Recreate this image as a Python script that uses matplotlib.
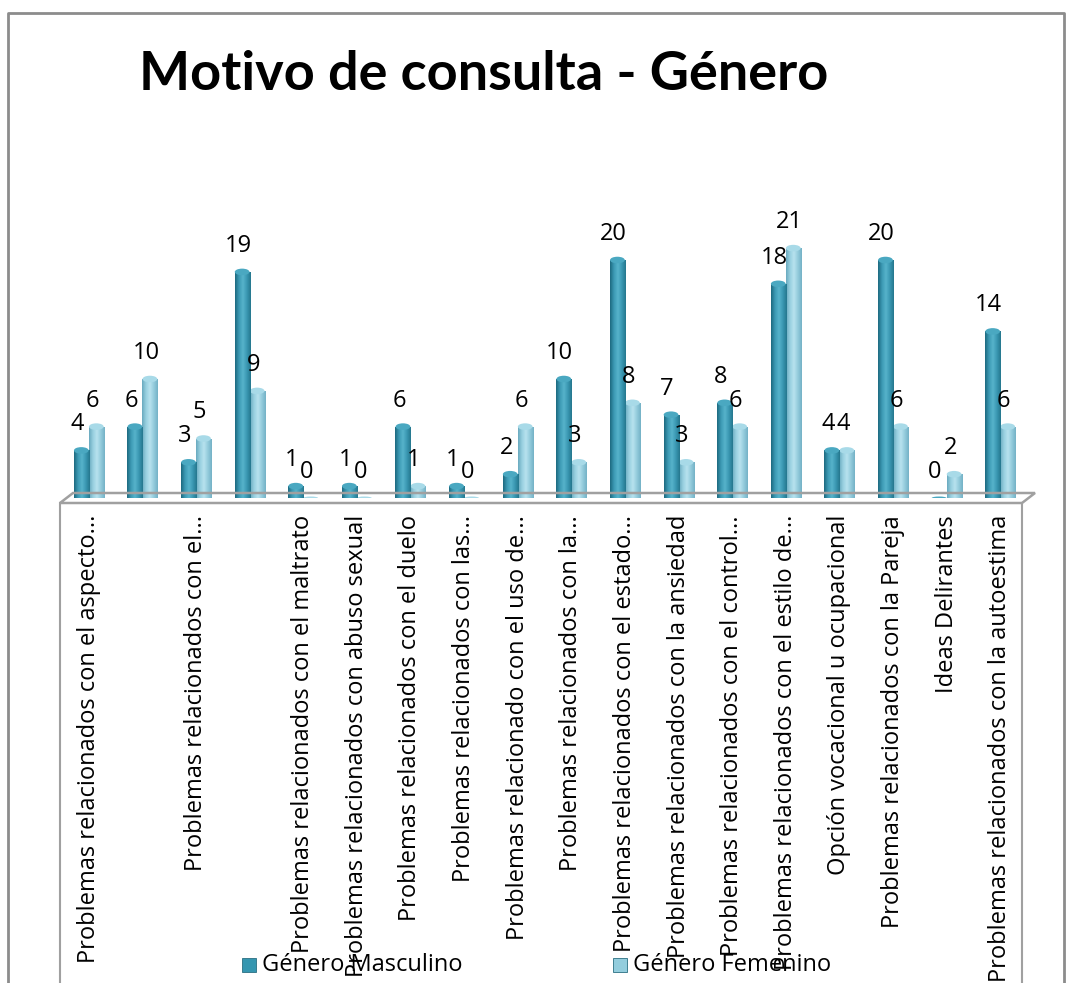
import numpy as np
import matplotlib.pyplot as plt
import matplotlib.transforms as mtransforms
from matplotlib.patches import Ellipse, Rectangle, Polygon
from matplotlib.lines import Line2D
from matplotlib.colors import LinearSegmentedColormap

# labels shown under the axis ("" = label skipped by the original chart)
etiquetas = [
    "Problemas relacionados con el aspecto...",
    "",
    "Problemas relacionados con el...",
    "",
    "Problemas relacionados con el maltrato",
    "Problemas relacionados con abuso sexual",
    "Problemas relacionados con el duelo",
    "Problemas relacionados con las...",
    "Problemas relacionado con el uso de...",
    "Problemas relacionados con la...",
    "Problemas relacionados con el estado...",
    "Problemas relacionados con la ansiedad",
    "Problemas relacionados con el control...",
    "Problemas relacionados con el estilo de...",
    "Opción vocacional u ocupacional",
    "Problemas relacionados con la Pareja",
    "Ideas Delirantes",
    "Problemas relacionados con la autoestima",
]
masculino = [4, 6, 3, 19, 1, 1, 6, 1, 2, 10, 20, 7, 8, 18, 4, 20, 0, 14]
femenino = [6, 10, 5, 9, 0, 0, 1, 0, 6, 3, 8, 3, 6, 21, 4, 6, 2, 6]
series = ["Género Masculino", "Género Femenino"]

W, H = 1070, 983
fig = plt.figure(figsize=(W / 100, H / 100), dpi=100)
plt.rcParams['font.family'] = ['Open Sans', 'DejaVu Sans']


def fx(px):
    return px / W


def fy(py):
    return 1 - py / H


# chart border (bottom is cut off in the original)
gris = '#8c8c8c'
fig.add_artist(Line2D([fx(8), fx(8), fx(1064), fx(1064)],
                      [0, fy(13), fy(13), 0], color=gris, lw=2))

ax = fig.add_axes([fx(62), fy(498), 965 / W, 297.5 / H])
ax.axis('off')

# floor of the 3D chart and the label box
floor = Polygon([(fx(60), fy(503)), (fx(1022), fy(503)), (fx(1035), fy(493)),
                 (fx(73), fy(493))], closed=True, fill=False, ec='#a0a0a0',
                lw=1.8, transform=fig.transFigure)
fig.add_artist(floor)
fig.add_artist(Line2D([fx(60), fx(60)], [fy(503), 0], color='#a0a0a0', lw=1.5))
fig.add_artist(Line2D([fx(1022), fx(1022)], [fy(503), 0], color='#a0a0a0', lw=1.5))

oscuro = LinearSegmentedColormap.from_list(
    'osc', ['#1d6a80', '#3c9ab4', '#57b3cb', '#3a98b2', '#26778e'])
claro = LinearSegmentedColormap.from_list(
    'cla', ['#6aaabf', '#98d0e0', '#b8e2ee', '#93cbdc', '#74b2c6'])
grad = np.linspace(0, 1, 64).reshape(1, -1)

x = np.arange(len(masculino))
w = 0.28
bm = ax.bar(x - w / 2, masculino, w, color='#3596b0', zorder=3, label=series[0])
bf = ax.bar(x + w / 2, femenino, w, color='#93cddd', zorder=2, label=series[1])

for bars, cmap, tapa, z in [(bm, oscuro, '#4aa8c1', 3), (bf, claro, '#a8dae8', 2)]:
    for b in bars:
        x0, h, bw = b.get_x(), b.get_height(), b.get_width()
        b.set_visible(False)
        if h > 0:
            im = ax.imshow(grad, cmap=cmap, extent=(x0, x0 + bw, 0, h),
                           aspect='auto', zorder=z)
            clip = Rectangle((x0, 0), bw, h, transform=ax.transData)
            im.set_clip_path(clip)
        ax.add_patch(Ellipse((x0 + bw / 2, h), bw * 0.98, 0.55 if h > 0 else 0.25,
                             fc=tapa, ec='none', zorder=z + 0.1))

ax.set_xlim(-0.5, 17.5)
ax.set_ylim(0, 25)

for bars, vals in [(bm, masculino), (bf, femenino)]:
    for b, v in zip(bars, vals):
        ax.annotate(str(v), (b.get_x() + b.get_width() / 2, v),
                    xytext=(-4, 26), textcoords='offset pixels',
                    ha='center', va='center', fontsize=17, zorder=5,
                    annotation_clip=False)

lab_tr = mtransforms.blended_transform_factory(ax.transData, fig.transFigure)
for i, lab in enumerate(etiquetas):
    ax.text(i, fy(515), lab, rotation=90, ha='center', va='top', fontsize=17,
            transform=lab_tr)

fig.text(fx(484), fy(74), "Motivo de consulta - Género", ha='center', va='center',
         fontsize=39, fontweight='bold', family=['Lato', 'DejaVu Sans'])

# legend (centered under the chart, overlapping the long labels as in the original)
for px, col, txt in [(242, '#3596b0', series[0]), (613, '#93cddd', series[1])]:
    fig.add_artist(Rectangle((fx(px), fy(972)), 14 / W, 14 / H, fc=col, ec='#2a6f82',
                             lw=0.6, transform=fig.transFigure))
    fig.text(fx(px + 20), fy(965), txt, ha='left', va='center', fontsize=17)

fig.savefig('out.png', dpi=100)
